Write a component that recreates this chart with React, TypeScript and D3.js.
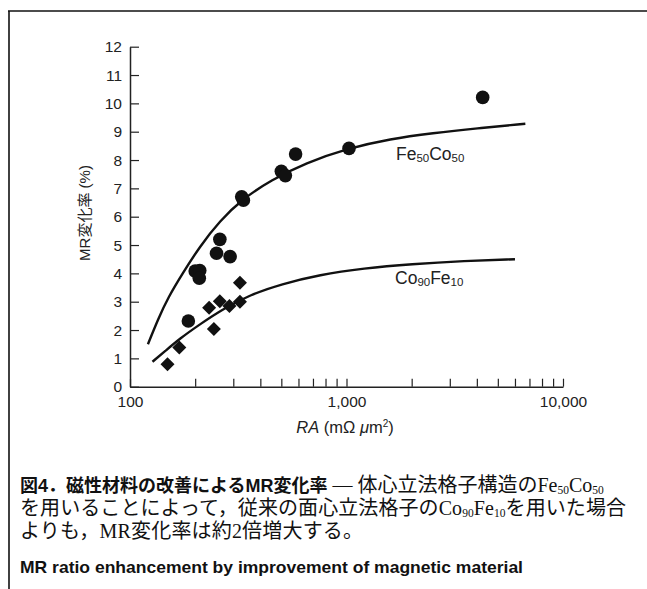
import React, { useEffect, useRef } from "react";
import * as d3 from "d3";

// Fe50Co50 (circles)
const feRA = [186, 200, 210, 209, 251, 260, 290, 328, 334, 500, 522, 582, 1027, 4256];
const feMR = [2.32, 4.08, 4.1, 3.83, 4.71, 5.2, 4.59, 6.7, 6.58, 7.6, 7.45, 8.21, 8.41, 10.21];

// Co90Fe10 (diamonds)
const coRA = [149, 169, 232, 244, 260, 288, 322, 322];
const coMR = [0.79, 1.38, 2.79, 2.04, 3.02, 2.85, 3.67, 3.0];

// fitted curves
const feCurveRA = [121, 135, 150, 175, 210, 260, 330, 450, 650, 1000, 1600, 2500, 4000, 6700];
const feCurveMR = [1.5, 2.4, 3.15, 4.0, 4.95, 5.85, 6.62, 7.3, 7.9, 8.4, 8.75, 8.95, 9.12, 9.28];
const coCurveRA = [127, 145, 170, 210, 270, 360, 500, 750, 1200, 2000, 3500, 6000];
const coCurveMR = [0.88, 1.25, 1.7, 2.2, 2.75, 3.25, 3.62, 3.95, 4.18, 4.33, 4.44, 4.5];

const xTickValues = [100, 200, 300, 400, 500, 600, 700, 800, 900, 1000, 2000, 3000, 4000, 5000, 6000, 7000, 8000, 9000, 10000];
const xTickLabels: Record<number, string> = { 100: "100", 1000: "1,000", 10000: "10,000" };
const yTickValues = [0, 1, 2, 3, 4, 5, 6, 7, 8, 9, 10, 11, 12];

const SANS = "'Liberation Sans', Arial, Helvetica, sans-serif";
const CJK_SANS = "'Liberation Sans', Arial, 'Noto Sans CJK JP', sans-serif";
const SERIF = "'Liberation Serif', 'Noto Sans CJK JP', serif";

const App = () => {
  const chartRef = useRef<SVGGElement>(null);

  useEffect(() => {
    const g = d3.select(chartRef.current);
    g.selectAll("*").remove();

    const x = d3.scaleLog().domain([100, 10000]).range([130, 563]);
    const y = d3.scaleLinear().domain([0, 12]).range([386.7, 46.7]);

    // y axis, ticks pointing inward
    const yAxis = g
      .append("g")
      .attr("transform", `translate(${x(100)},0)`)
      .call(d3.axisLeft(y).tickValues(yTickValues).tickSize(-9).tickSizeOuter(0).tickPadding(8));
    yAxis.select(".domain").attr("stroke", "#222").attr("stroke-width", 1.5);
    yAxis.selectAll(".tick line").attr("stroke", "#222").attr("stroke-width", 1.2);
    yAxis.selectAll("text").style("font-family", SANS).style("font-size", "15.5px").attr("fill", "#222");

    // x axis, log
    const xAxis = g
      .append("g")
      .attr("transform", `translate(0,${y(0)})`)
      .call(
        d3
          .axisBottom(x)
          .tickValues(xTickValues)
          .tickSize(-8)
          .tickSizeOuter(0)
          .tickPadding(9)
          .tickFormat((d) => xTickLabels[d as number] ?? "")
      );
    xAxis.select(".domain").attr("stroke", "#222").attr("stroke-width", 1.5);
    xAxis.selectAll(".tick line").attr("stroke", "#222").attr("stroke-width", 1.2);
    xAxis.selectAll("text").style("font-family", SANS).style("font-size", "15.5px").attr("fill", "#222");

    // curves
    const line = d3
      .line<[number, number]>()
      .x((d) => x(d[0]))
      .y((d) => y(d[1]))
      .curve(d3.curveBasis);

    g.append("path")
      .datum(feCurveRA.map((v, i) => [v, feCurveMR[i]] as [number, number]))
      .attr("d", line)
      .attr("fill", "none")
      .attr("stroke", "#111")
      .attr("stroke-width", 2.4);

    g.append("path")
      .datum(coCurveRA.map((v, i) => [v, coCurveMR[i]] as [number, number]))
      .attr("d", line)
      .attr("fill", "none")
      .attr("stroke", "#111")
      .attr("stroke-width", 2.4);

    // points
    g.selectAll(".fe")
      .data(feRA.map((v, i) => [v, feMR[i]]))
      .join("circle")
      .attr("class", "fe")
      .attr("cx", (d) => x(d[0]))
      .attr("cy", (d) => y(d[1]))
      .attr("r", 6.8)
      .attr("fill", "#111");

    const diamond = d3.symbol().type(d3.symbolDiamond2).size(125);
    g.selectAll(".co")
      .data(coRA.map((v, i) => [v, coMR[i]]))
      .join("path")
      .attr("class", "co")
      .attr("transform", (d) => `translate(${x(d[0])},${y(d[1])})`)
      .attr("d", diamond)
      .attr("fill", "#111");
  }, []);

  return (
    <svg width={647} height={589} style={{ position: "absolute", left: 0, top: 0, background: "#fff" }}>
      {/* frame */}
      <line x1={8} y1={11} x2={647} y2={11} stroke="#111" strokeWidth={1.6} />
      <line x1={9} y1={11} x2={9} y2={589} stroke="#111" strokeWidth={1.6} />

      <g ref={chartRef} />

      {/* series labels */}
      <text x={396} y={160} fontFamily={SANS} fontSize={17.5} fill="#222">
        Fe<tspan fontSize={11.5} dy={2}>50</tspan>
        <tspan dy={-2}>Co</tspan>
        <tspan fontSize={11.5} dy={2}>50</tspan>
      </text>
      <text x={395} y={284} fontFamily={SANS} fontSize={17.5} fill="#222">
        Co<tspan fontSize={11.5} dy={2}>90</tspan>
        <tspan dy={-2}>Fe</tspan>
        <tspan fontSize={11.5} dy={2}>10</tspan>
      </text>

      {/* axis titles */}
      <text
        transform="translate(90,213) rotate(-90)"
        textAnchor="middle"
        fontFamily={CJK_SANS}
        fontSize={15}
        fill="#222"
      >
        MR変化率 (%)
      </text>
      <text x={345} y={433} textAnchor="middle" fontFamily={SANS} fontSize={16.5} fill="#222">
        <tspan fontStyle="italic">RA</tspan>
        <tspan> (mΩ </tspan>
        <tspan fontStyle="italic">μ</tspan>
        <tspan>m</tspan>
        <tspan fontSize={10} dy={-6}>2</tspan>
        <tspan dy={6}>)</tspan>
      </text>

      {/* caption */}
      <text x={20} y={492} fill="#111">
        <tspan fontFamily={CJK_SANS} fontWeight="bold" fontSize={18}>図4．磁性材料の改善によるMR変化率</tspan>
        <tspan fontFamily={SERIF} fontSize={20}> — 体心立法格子構造の</tspan>
        <tspan fontFamily={SERIF} fontSize={20}>Fe</tspan>
        <tspan fontFamily={SERIF} fontSize={11.5} dy={2}>50</tspan>
        <tspan fontFamily={SERIF} fontSize={20} dy={-2}>Co</tspan>
        <tspan fontFamily={SERIF} fontSize={11.5} dy={2}>50</tspan>
      </text>
      <text x={20} y={515} fontSize={20} fill="#111" fontFamily={SERIF} textLength={606} lengthAdjust="spacing">
        を用いることによって，従来の面心立法格子のCo
        <tspan fontSize={11.5} dy={2}>90</tspan>
        <tspan dy={-2}>Fe</tspan>
        <tspan fontSize={11.5} dy={2}>10</tspan>
        <tspan dy={-2}>を用いた場合</tspan>
      </text>
      <text x={20} y={538} fontSize={20} fill="#111" fontFamily={SERIF} textLength={343} lengthAdjust="spacing">
        よりも，MR変化率は約2倍増大する。
      </text>
      <text x={20} y={573} fontSize={17} fontWeight="bold" fill="#111" fontFamily={SANS} textLength={503} lengthAdjust="spacingAndGlyphs">
        MR ratio enhancement by improvement of magnetic material
      </text>
    </svg>
  );
};

export default App;
